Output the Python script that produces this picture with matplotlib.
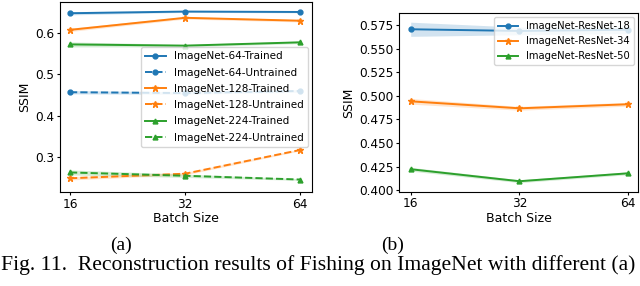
import matplotlib

matplotlib.use("Agg")
import matplotlib.pyplot as plt
from matplotlib.axes import Axes
from matplotlib.figure import Figure

BATCH_SIZES = ["16", "32", "64"]

# (a) dataset resolution, trained vs untrained
IN64_TRAINED = [0.647, 0.651, 0.650]
IN64_UNTRAINED = [0.457, 0.455, 0.460]
IN128_TRAINED = [0.607, 0.636, 0.629]
IN128_UNTRAINED = [0.250, 0.261, 0.318]
IN224_TRAINED = [0.572, 0.569, 0.577]
IN224_UNTRAINED = [0.264, 0.256, 0.247]
# half-width of the shaded band
IN64_TRAINED_ERR = [0.004, 0.002, 0.002]
IN64_UNTRAINED_ERR = [0.004, 0.003, 0.003]
IN128_TRAINED_ERR = [0.004, 0.003, 0.003]
IN128_UNTRAINED_ERR = [0.004, 0.003, 0.002]
IN224_TRAINED_ERR = [0.006, 0.003, 0.003]
IN224_UNTRAINED_ERR = [0.006, 0.004, 0.002]

# (b) model depth
RESNET18 = [0.5705, 0.5687, 0.5700]
RESNET34 = [0.4942, 0.4868, 0.4911]
RESNET50 = [0.4223, 0.4096, 0.4180]
RESNET18_ERR = [0.0075, 0.004, 0.004]
RESNET34_ERR = [0.003, 0.002, 0.002]
RESNET50_ERR = [0.002, 0.0015, 0.0015]

CAPTION = "Fig. 11.  Reconstruction results of Fishing on ImageNet with different (a)"


def draw(ax, ys, errs, label, color, marker, ls="-", ms=3.5):
    xs = range(len(BATCH_SIZES))
    lo = [y - e for y, e in zip(ys, errs)]
    hi = [y + e for y, e in zip(ys, errs)]
    ax.fill_between(xs, lo, hi, color=color, alpha=0.2, linewidth=0)
    ax.plot(xs, ys, color=color, marker=marker, ls=ls, ms=ms, lw=1.4, label=label)


def plot():
    fig: Figure = plt.figure(figsize=(6.4, 2.86), dpi=100)
    ax1: Axes = fig.add_axes([0.09375, 0.3287, 0.39375, 0.6643])
    ax2: Axes = fig.add_axes([0.6239, 0.3297, 0.373, 0.6238])

    draw(ax1, IN64_TRAINED, IN64_TRAINED_ERR, "ImageNet-64-Trained", "tab:blue", "o")
    draw(ax1, IN64_UNTRAINED, IN64_UNTRAINED_ERR, "ImageNet-64-Untrained", "tab:blue", "o", "--")
    draw(ax1, IN128_TRAINED, IN128_TRAINED_ERR, "ImageNet-128-Trained", "tab:orange", "*", ms=4.5)
    draw(ax1, IN128_UNTRAINED, IN128_UNTRAINED_ERR, "ImageNet-128-Untrained", "tab:orange", "*", "--", ms=4.5)
    draw(ax1, IN224_TRAINED, IN224_TRAINED_ERR, "ImageNet-224-Trained", "tab:green", "^")
    draw(ax1, IN224_UNTRAINED, IN224_UNTRAINED_ERR, "ImageNet-224-Untrained", "tab:green", "^", "--")
    ax1.set_ylim(0.217, 0.674)
    ax1.set_xlim(-0.087, 2.104)
    ax1.set_yticks([0.3, 0.4, 0.5, 0.6])
    ax1.legend(loc="center right", fontsize=7.5, labelspacing=0.6, borderaxespad=0.4)

    draw(ax2, RESNET18, RESNET18_ERR, "ImageNet-ResNet-18", "tab:blue", "o")
    draw(ax2, RESNET34, RESNET34_ERR, "ImageNet-ResNet-34", "tab:orange", "*", ms=4.5)
    draw(ax2, RESNET50, RESNET50_ERR, "ImageNet-ResNet-50", "tab:green", "^")
    ax2.set_ylim(0.3985, 0.5874)
    ax2.set_xlim(-0.105, 2.09)
    ax2.set_yticks([0.400, 0.425, 0.450, 0.475, 0.500, 0.525, 0.550, 0.575])
    ax2.yaxis.set_major_formatter("{x:.3f}")
    ax2.legend(loc="upper right", fontsize=7.2, borderaxespad=0.4)

    for ax in (ax1, ax2):
        ax.set_xticks(range(len(BATCH_SIZES)), BATCH_SIZES)
        ax.set_xlabel("Batch Size", fontsize=9, labelpad=1)
        ax.set_ylabel("SSIM", fontsize=9, labelpad=3)
        ax.tick_params(axis="both", labelsize=8.7, pad=1.5, length=2.5)

    serif = ["Liberation Serif", "DejaVu Serif"]
    fig.text(121 / 640, 1 - 245 / 286, "(a)", ha="center", va="center", fontsize=14, family=serif)
    fig.text(393 / 640, 1 - 245 / 286, "(b)", ha="center", va="center", fontsize=14, family=serif)
    fig.text(1 / 640, 1 - 265 / 286, CAPTION, ha="left", va="center", fontsize=15.6, family=serif)

    return fig


def main():
    fig = plot()
    fig.savefig("out.png", dpi=100)


if __name__ == "__main__":
    main()
